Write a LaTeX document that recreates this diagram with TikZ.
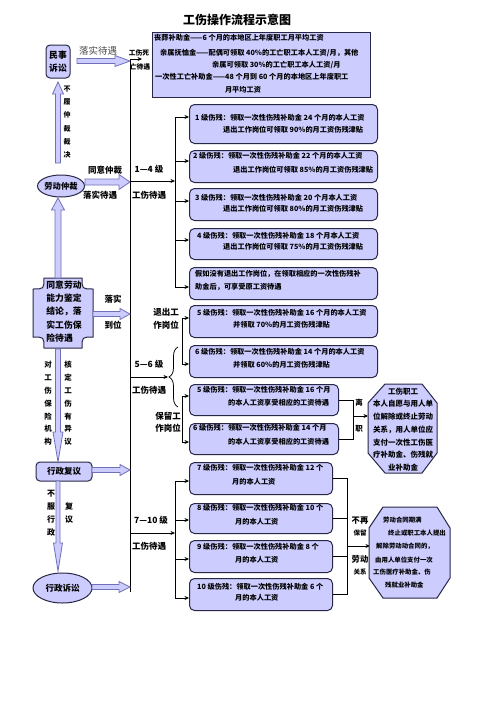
\documentclass[tikz,border=0pt]{standalone}
\usepackage{fontspec}
\setmainfont{Noto Sans CJK SC}
\usetikzlibrary{calc,arrows.meta,shapes.geometric,decorations.pathreplacing}
\definecolor{lav}{RGB}{204,204,255}
\definecolor{aedge}{RGB}{112,112,184}
\definecolor{bedge}{RGB}{40,40,70}
\newcommand\myfs[1]{\fontsize{#1}{#1}\selectfont\bfseries}
\newcommand\fatarrow[5]{%
  \coordinate (faC) at ($(#2)!#5!(#1)$);
  \filldraw[hollow] ($(#1)!#3!90:(#2)$) -- ($(faC)!#3!90:(#2)$) -- ($(faC)!#4!90:(#2)$) -- (#2) -- ($(faC)!#4!-90:(#2)$) -- ($(faC)!#3!-90:(#2)$) -- ($(#1)!#3!-90:(#2)$) -- cycle;}
\begin{document}
\begin{tikzpicture}[x=1pt,y=-1pt,
  ibox/.style={draw=bedge, line width=1pt, fill=lav, rounded corners=5pt, inner sep=0pt, anchor=north west},
  bt/.style={inner sep=0pt, anchor=west, font=\myfs{7.2}},
  lbl/.style={inner sep=0pt, font=\myfs{8.5}, align=center},
  vt/.style={inner sep=0pt, align=center, font=\fontsize{7.5}{12.8}\selectfont\bfseries},
  ln/.style={line width=0.75pt},
  arr/.style={ln, -{Stealth[length=4.5pt,width=4pt]}},
  hollow/.style={fill=lav, draw=aedge, line width=0.8pt, line join=miter},
  lshape/.style={draw=bedge, line width=1pt, fill=lav}]
\useasboundingbox (0,0) rectangle (496,702);
\fill[white] (0,0) rectangle (496,702);

% title
\node[inner sep=0pt, font=\myfs{12}] (title) at (237,20) {工伤操作流程示意图};

% ---------- left column ----------
\node[draw=bedge, line width=1pt, fill=lav, rounded corners=4pt, minimum width=24pt, minimum height=33pt, inner sep=0pt, align=center, font=\fontsize{8.8}{13}\selectfont\bfseries] (ms) at (58,61.5) {民事\\诉讼};
\node[inner sep=0pt, font=\fontsize{9.5}{9.5}\selectfont, text=black!70] (lsdy) at (98,51) {落实待遇};

\node[draw=bedge, line width=1pt, fill=lav, ellipse, minimum width=47pt, minimum height=22pt, inner sep=0pt, font=\myfs{8.3}] (ld) at (61,186) {劳动仲裁};
\node[vt, font=\fontsize{7}{13.2}\selectfont\bfseries] (blzc) at (67,122) {不\\履\\仲\\裁\\裁\\决};
\node[lbl] (tyzc) at (105,170) {同意仲裁};
\node[lbl] (lsdy2) at (100,195) {落实待遇};

\filldraw[lshape] (44,278) -- (82,278) .. controls (82,289) .. (93,289) -- (93,337) .. controls (82,337) .. (82,348) -- (44,348) .. controls (44,337) .. (33,337) -- (33,289) .. controls (44,289) .. (44,278) -- cycle;
\node[inner sep=0pt, align=left, font=\fontsize{8.8}{13.3}\selectfont\bfseries] (ty) at (64,311.5) {同意劳动\\能力鉴定\\结论，落\\实工伤保\\险待遇};
\node[lbl] (ls) at (113,299) {落实};
\node[lbl] (dw) at (113,325) {到位};

\node[vt] (dgs) at (48,403.5) {对\\工\\伤\\保\\险\\机\\构};
\node[vt] (hdg) at (68,403.5) {核\\定\\工\\伤\\有\\异\\议};

\node[draw=bedge, line width=1pt, fill=lav, rounded corners=4pt, minimum width=56pt, minimum height=19pt, inner sep=0pt, font=\myfs{8.5}] (xf) at (64,471.5) {行政复议};
\node[vt, font=\fontsize{8}{13}\selectfont\bfseries] (bfxz) at (51,513.5) {不\\服\\行\\政};
\node[vt, font=\fontsize{8}{13}\selectfont\bfseries] (fy) at (69,513.5) {复\\议};

\node[draw=bedge, line width=1pt, fill=lav, ellipse, minimum width=59pt, minimum height=30pt, inner sep=0pt, font=\myfs{8.5}] (xs) at (62.5,588) {行政诉讼};

% ---------- main vertical line ----------
\coordinate (mtop) at (130,59);
\coordinate (mbot) at (130,592);
\coordinate (mdeath) at (142,59);
\draw[arr] (mbot) -- (mtop) -- (mdeath);
\node[inner sep=0pt, font=\myfs{6.8}] (gss) at (139,53) {工伤死};
\node[inner sep=0pt, font=\myfs{6.8}] (wdy) at (140,67) {亡待遇};

% ---------- top box ----------
\node[draw=bedge, line width=1pt, fill=lav, minimum width=218pt, minimum height=65pt, inner sep=0pt, anchor=north west] (top) at (152,32) {};
\node[bt] (tl1) at (154,38) {丧葬补助金——6 个月的本地区上年度职工月平均工资};
\node[bt] (tl2) at (160,53) {亲属抚恤金——配偶可领取 40\%的工亡职工本人工资/月，其他};
\node[bt] (tl3) at (212,65) {亲属可领取 30\%的工亡职工本人工资/月};
\node[bt] (tl4) at (155,77) {一次性工亡补助金——48 个月到 60 个月的本地区上年度职工};
\node[bt, anchor=center] (tl5) at (243,90) {月平均工资};

% ---------- boxes ----------
\foreach \n/\x/\y/\w/\h in {b1/189/104/188/39, b2/189/150/188/32, b3/189/188/188/32, b4/189/228/188/31, b5/189/267/188/32, b6/189/305/188/32, b7/189/345/188/32, b8/189/384/149/31, b9/189/423/149/31, b10/189/462/143/32, b11/189/503/143/30, b12/189/540/143/32, b13/189/578/143/32}
  \node[ibox, minimum width=\w pt, minimum height=\h pt] (\n) at (\x,\y) {};

\node[bt] (b1a) at (195,118) {1 级伤残：领取一次性伤残补助金 24 个月的本人工资};
\node[bt] (b1b) at (223,130) {退出工作岗位可领取 90\%的月工资伤残津贴};
\node[bt] (b2a) at (193,156) {2 级伤残：领取一次性伤残补助金 22 个月的本人工资};
\node[bt] (b2b) at (233,170) {退出工作岗位可领取 85\%的月工资伤残津贴};
\node[bt] (b3a) at (195,198) {3 级伤残：领取一次性伤残补助金 20 个月本人工资};
\node[bt] (b3b) at (223,209) {退出工作岗位可领取 80\%的月工资伤残津贴};
\node[bt] (b4a) at (197,236) {4 级伤残：领取一次性伤残补助金 18 个月本人工资};
\node[bt] (b4b) at (223,247) {退出工作岗位可领取 75\%的月工资伤残津贴};
\node[bt] (b5a) at (195,274) {假如没有退出工作岗位，在领取相应的一次性伤残补};
\node[bt] (b5b) at (195,287) {助金后，可享受原工资待遇};
\node[bt] (b6a) at (197,313) {5 级伤残：领取一次性伤残补助金 16 个月的本人工资};
\node[bt] (b6b) at (233,325) {并领取 70\%的月工资伤残津贴};
\node[bt] (b7a) at (195,352) {6 级伤残：领取一次性伤残补助金 14 个月的本人工资};
\node[bt] (b7b) at (233,365) {并领取 60\%的月工资伤残津贴};
\node[bt] (b8a) at (197,390) {5 级伤残：领取一次性伤残补助金 16 个月};
\node[bt] (b8b) at (228,403) {的本人工资享受相应的工资待遇};
\node[bt] (b9a) at (193,428) {6 级伤残：领取一次性伤残补助金 14 个月};
\node[bt] (b9b) at (228,442) {的本人工资享受相应的工资待遇};
\node[bt] (b10a) at (197,468) {7 级伤残：领取一次性伤残补助金 12 个};
\node[bt] (b10b) at (232,482) {月的本人工资};
\node[bt] (b11a) at (197,508) {8 级伤残：领取一次性伤残补助金 10 个};
\node[bt] (b11b) at (235,522) {月的本人工资};
\node[bt] (b12a) at (197,547) {9 级伤残：领取一次性伤残补助金 8 个};
\node[bt] (b12b) at (235,560) {月的本人工资};
\node[bt] (b13a) at (197,587) {10 级伤残：领取一次性伤残补助金 6 个};
\node[bt] (b13b) at (235,598) {月的本人工资};

% ---------- group 1-4 ----------
\node[lbl] (g1l) at (149,169) {1—4 级};
\node[lbl] (g1m) at (149,195) {工伤待遇};
\coordinate (g1s) at (130,181);
\coordinate (g1e) at (175,181);
\draw[arr] (g1s) -- (g1e);
\foreach \b/\y [count=\i] in {b1/117,b2/161,b3/201,b4/240,b5/287} {
  \coordinate (p1\i) at (175,\y);
  \draw[arr] (p1\i) -- (p1\i -| \b.west);
}
\draw[ln] (p11) -- (p15);

% ---------- group 5-6 ----------
\node[lbl] (g2l) at (149,364) {5—6 级};
\node[lbl] (g2m) at (149,390) {工伤待遇};
\node[lbl] (tc1) at (166,312) {退出工};
\node[lbl] (tc2) at (166,325) {作岗位};
\node[lbl] (bl1) at (168,416) {保留工};
\node[lbl] (bl2) at (168,428) {作岗位};
\coordinate (g2s) at (130,377);
\coordinate (g2e) at (168,377);
\coordinate (brb) at (178,407);
\coordinate (brt) at (178,347);
\draw[arr] (g2s) -- (g2e);
\draw[ln, decorate, decoration={brace, amplitude=9pt}] (brb) -- (brt);
\foreach \b/\y [count=\i] in {b6/318,b7/364,b8/396,b9/442} {
  \coordinate (p2\i) at (182,\y);
  \draw[arr] (p2\i) -- (p2\i -| \b.west);
}
\draw[ln] (p21) -- (p22);
\draw[ln] (p23) -- (p24);

% leave bracket
\coordinate (lzm) at (353,416);
\coordinate (o1w) at (368,416);
\draw[ln] (b8.east) -- (b8.east -| lzm) -- (b9.east -| lzm) -- (b9.east);
\draw[arr] (lzm) -- (o1w);
\node[inner sep=0pt, font=\myfs{7.5}] (li) at (359,403) {离};
\node[inner sep=0pt, font=\myfs{7.5}] (zhi) at (359,429) {职};

% octagon 1
\filldraw[lshape] (385,384) -- (422,384) -- (437,403) -- (437,453) -- (422,473) -- (385,473) -- (368,453) -- (368,403) -- cycle;
\node[inner sep=0pt, align=center, font=\fontsize{7.5}{12.7}\selectfont\bfseries] (o1) at (403,429.5) {工伤职工\\本人自愿与用人单\\位解除或终止劳动\\关系，用人单位应\\支付一次性工伤医\\疗补助金、伤残就\\业补助金};

% ---------- group 7-10 ----------
\node[lbl] (g3l) at (151,520) {7—10 级};
\node[lbl] (g3m) at (149,546) {工伤待遇};
\coordinate (g3s) at (130,533);
\coordinate (g3e) at (175,533);
\draw[arr] (g3s) -- (g3e);
\foreach \b/\y [count=\i] in {b10/481,b11/520,b12/559,b13/598} {
  \coordinate (p3\i) at (175,\y);
  \draw[arr] (p3\i) -- (p3\i -| \b.west);
}
\draw[ln] (p31) -- (p34);

% right bracket 7-10
\coordinate (rv) at (347,546);
\coordinate (o2w) at (370,546);
\draw[ln] (b10.east) -- (b10.east -| rv) -- (b13.east -| rv) -- (b13.east);
\draw[ln] (b11.east) -- (b11.east -| rv);
\draw[ln] (b12.east) -- (b12.east -| rv);
\draw[arr] (rv) -- (o2w);
\node[inner sep=0pt, font=\myfs{8.3}] (bz) at (360,521) {不再};
\node[inner sep=0pt, font=\myfs{6.5}] (bl) at (360,533) {保留};
\node[inner sep=0pt, font=\myfs{8.3}] (ldg) at (360,559) {劳动};
\node[inner sep=0pt, font=\myfs{6.5}] (gx) at (360,572) {关系};

% octagon 2
\filldraw[lshape] (383,507) -- (437,507) -- (450,528) -- (450,578) -- (437,598) -- (383,598) -- (369,578) -- (369,528) -- cycle;
\node[bt, font=\myfs{6.4}] (o2a) at (383,520) {劳动合同期满};
\node[bt, font=\myfs{6.4}] (o2b) at (388,533) {终止或职工本人提出};
\node[bt, font=\myfs{6.4}] (o2c) at (376,546) {解除劳动动合同的，};
\node[bt, font=\myfs{6.4}] (o2d) at (375,560) {由用人单位支付一次};
\node[bt, font=\myfs{6.4}] (o2e) at (373,572) {工伤医疗补助金、伤};
\node[bt, font=\myfs{6.4}] (o2f) at (385,585) {残就业补助金};

% ---------- hollow arrows ----------
\coordinate (h1s) at (77,61);   \coordinate (h1e) at (130,61);
\coordinate (h2s) at (85,182);  \coordinate (h2e) at (130,182);
\coordinate (h3s) at (58,163);  \coordinate (h3e) at (58,82);
\coordinate (h4s) at (58,278);  \coordinate (h4e) at (58,198);
\coordinate (h5s) at (93,314);  \coordinate (h5e) at (130,314);
\coordinate (h6s) at (58,349);  \coordinate (h6e) at (58,462);
\coordinate (h7s) at (92,470);  \coordinate (h7e) at (130,470);
\coordinate (h8s) at (58,481);  \coordinate (h8e) at (58,571);
\coordinate (h9s) at (92,587);  \coordinate (h9e) at (130,587);
\fatarrow{h1s}{h1e}{2.5pt}{5.5pt}{15pt}
\fatarrow{h2s}{h2e}{3pt}{7.5pt}{11pt}
\fatarrow{h3s}{h3e}{2.5pt}{5.5pt}{12pt}
\fatarrow{h4s}{h4e}{3pt}{6.5pt}{12pt}
\fatarrow{h5s}{h5e}{2.5pt}{5.5pt}{10pt}
\fatarrow{h6s}{h6e}{2.5pt}{5pt}{30pt}
\fatarrow{h7s}{h7e}{2.5pt}{5.5pt}{10pt}
\fatarrow{h8s}{h8e}{2pt}{4.5pt}{28pt}
\fatarrow{h9s}{h9e}{2.5pt}{5.5pt}{11pt}
\end{tikzpicture}
\end{document}
